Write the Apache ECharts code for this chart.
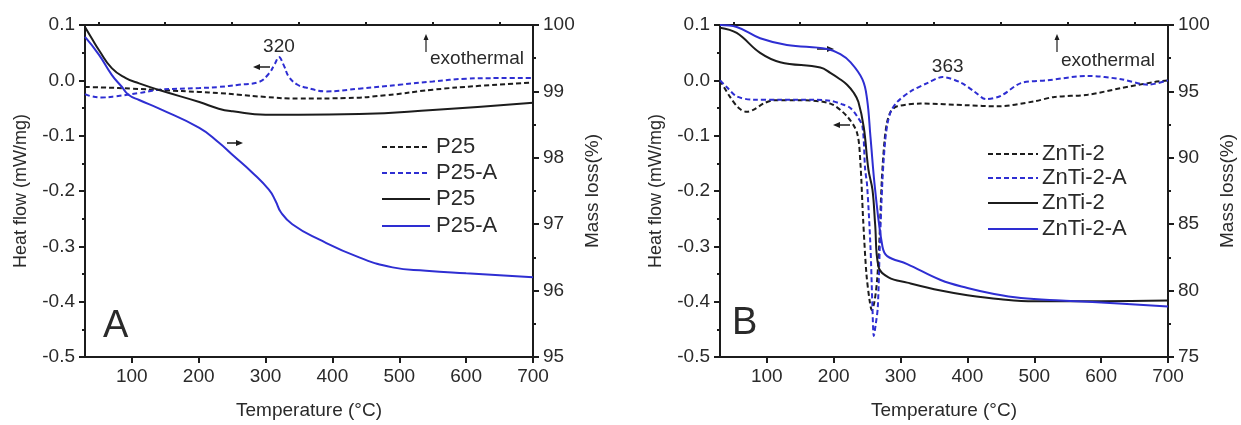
<!DOCTYPE html>
<html><head><meta charset="utf-8">
<script src="https://cdn.jsdelivr.net/npm/echarts@6/dist/echarts.min.js"></script>
<style>html,body{margin:0;padding:0;background:#fff}#c{width:1241px;height:425px}</style>
</head><body><div id="c"></div>
<script>
// ---------- Panel A (P25) ----------
const tA_p25_dsc = [30, 60, 100, 150, 200, 230, 260, 300, 350, 420, 480, 550, 620, 700];
const vA_p25_dsc = [-0.012, -0.013, -0.015, -0.018, -0.021, -0.023, -0.026, -0.030, -0.033, -0.032, -0.027, -0.017, -0.010, -0.004];

const tA_p25a_dsc = [30, 40, 55, 75, 111, 141, 201, 230, 260, 290, 305, 314, 320, 327, 335, 348, 360, 390, 440, 500, 550, 600, 650, 700];
const vA_p25a_dsc = [-0.025, -0.029, -0.031, -0.029, -0.023, -0.017, -0.014, -0.012, -0.008, -0.003, 0.012, 0.030, 0.042, 0.028, 0.006, -0.008, -0.013, -0.020, -0.015, -0.008, -0.002, 0.003, 0.004, 0.004];

const tA_p25_tg = [30, 40, 51, 70, 91, 111, 141, 201, 230, 251, 300, 350, 440, 550, 700];
const vA_p25_tg = [99.97, 99.8, 99.62, 99.35, 99.2, 99.12, 99.02, 98.84, 98.74, 98.7, 98.65, 98.65, 98.66, 98.72, 98.83];

const tA_p25a_tg = [30, 51, 70, 85, 95, 111, 141, 201, 230, 250, 280, 305, 315, 323, 340, 380, 440, 490, 540, 600, 700];
const vA_p25a_tg = [99.82, 99.55, 99.25, 99.07, 98.95, 98.87, 98.74, 98.45, 98.23, 98.05, 97.78, 97.52, 97.35, 97.18, 97.0, 96.77, 96.5, 96.35, 96.3, 96.26, 96.2];

// ---------- Panel B (ZnTi-2) ----------
const tB_zn_dsc = [30, 45, 58, 70, 82, 95, 110, 150, 195, 220, 235, 240, 244, 249, 254, 257, 261, 265, 268, 272, 276, 280, 286, 295, 330, 400, 445, 500, 530, 580, 630, 680, 700];
const vB_zn_dsc = [0.0, -0.03, -0.05, -0.057, -0.052, -0.042, -0.036, -0.036, -0.042, -0.065, -0.095, -0.15, -0.25, -0.35, -0.40, -0.415, -0.40, -0.36, -0.30, -0.18, -0.11, -0.075, -0.055, -0.047, -0.042, -0.045, -0.047, -0.038, -0.03, -0.026, -0.014, -0.003, 0.0];

const tB_zna_dsc = [30, 40, 55, 80, 120, 170, 195, 212, 225, 235, 243, 247, 250, 255, 258, 260, 263, 266, 269, 273, 277, 281, 286, 295, 315, 340, 363, 390, 410, 428, 450, 480, 520, 580, 630, 670, 700];
const vB_zna_dsc = [0.0, -0.012, -0.029, -0.035, -0.035, -0.035, -0.037, -0.043, -0.05, -0.065, -0.083, -0.16, -0.19, -0.30, -0.41, -0.462, -0.44, -0.41, -0.30, -0.18, -0.11, -0.075, -0.055, -0.039, -0.02, -0.005, 0.006, -0.004, -0.02, -0.034, -0.028, -0.005, 0.0, 0.008, 0.002, -0.008, 0.0];

const tB_zn_tg = [30, 55, 90, 120, 180, 195, 210, 220, 230, 237, 245, 252, 258, 262, 267, 282, 310, 360, 400, 450, 500, 600, 700];
const vB_zn_tg = [99.8, 99.4, 97.9, 97.2, 96.8, 96.4, 95.9, 95.5, 94.9, 94.2, 92.3, 89.1, 87.6, 85.0, 81.8, 81.0, 80.6, 80.0, 79.65, 79.35, 79.2, 79.2, 79.25];

const tB_zna_tg = [30, 55, 90, 130, 190, 210, 225, 243, 250, 255, 262, 273, 280, 310, 360, 400, 440, 480, 540, 600, 700];
const vB_zna_tg = [100, 99.85, 99.0, 98.5, 98.2, 97.8, 97.2, 95.9, 94.4, 91.6, 87.6, 83.3, 82.6, 82.0, 80.8, 80.2, 79.75, 79.45, 79.25, 79.1, 78.8];

// ---------- ticks / labels ----------
const xTicks = [100, 200, 300, 400, 500, 600, 700];
const xMinorTicks = [50, 150, 250, 350, 450, 550, 650];
const legendA = ['P25', 'P25-A', 'P25', 'P25-A'];
const legendB = ['ZnTi-2', 'ZnTi-2-A', 'ZnTi-2', 'ZnTi-2-A'];
const peakA = [320, 0.042];
const peakB = [363, 0.006];

const FONT = '"Liberation Sans", Arial, sans-serif';
const BLACK = '#1c1c1c';
const BLUE = '#2e2ed2';
const TXT = '#2a2a2a';
const DASH = [5, 3];

function zip(t, v) { return t.map((x, i) => [x, v[i]]); }

function xAxisMajor(g) {
  return {
    type: 'value', gridIndex: g, min: 30, max: 700,
    axisLine: { show: true, onZero: false, lineStyle: { color: BLACK, width: 2 } },
    axisTick: { show: true, length: 6, customValues: xTicks, lineStyle: { color: BLACK, width: 2 } },
    axisLabel: { show: true, customValues: xTicks, margin: 10, fontSize: 19, color: TXT, fontFamily: FONT },
    splitLine: { show: false },
    name: 'Temperature (°C)', nameLocation: 'middle', nameGap: 44,
    nameTextStyle: { fontSize: 19, color: TXT, fontFamily: FONT }
  };
}
function xAxisMinor(g) {
  return {
    type: 'value', gridIndex: g, min: 30, max: 700,
    axisLine: { show: false, onZero: false },
    axisTick: { show: true, length: 3, customValues: xMinorTicks, lineStyle: { color: BLACK, width: 2 } },
    axisLabel: { show: false }, splitLine: { show: false }
  };
}
function yLeft(g) {
  return {
    type: 'value', gridIndex: g, position: 'left', min: -0.5, max: 0.1, interval: 0.1,
    axisLine: { show: true, onZero: false, lineStyle: { color: BLACK, width: 2 } },
    axisTick: { show: true, length: 6, lineStyle: { color: BLACK, width: 2 } },
    minorTick: { show: true, splitNumber: 2, length: 3, lineStyle: { color: BLACK, width: 2 } },
    axisLabel: { margin: 10, fontSize: 19, color: TXT, fontFamily: FONT,
      formatter: v => (Math.abs(v) < 1e-9 ? 0 : v).toFixed(1) },
    splitLine: { show: false }, minorSplitLine: { show: false },
    name: 'Heat flow (mW/mg)', nameLocation: 'middle', nameGap: 55, nameRotate: 90,
    nameTextStyle: { fontSize: 18, color: TXT, fontFamily: FONT }
  };
}
function yRight(g, min, max, interval) {
  return {
    type: 'value', gridIndex: g, position: 'right', min: min, max: max, interval: interval,
    axisLine: { show: true, onZero: false, lineStyle: { color: BLACK, width: 2 } },
    axisTick: { show: true, length: 6, lineStyle: { color: BLACK, width: 2 } },
    minorTick: { show: true, splitNumber: 2, length: 3, lineStyle: { color: BLACK, width: 2 } },
    axisLabel: { margin: 10, fontSize: 19, color: TXT, fontFamily: FONT },
    splitLine: { show: false }, minorSplitLine: { show: false },
    name: 'Mass loss(%)', nameLocation: 'middle', nameGap: 50, nameRotate: 90,
    nameTextStyle: { fontSize: 19, color: TXT, fontFamily: FONT }
  };
}
function line(name, data, xi, yi, color, dashed, smooth, extra) {
  return Object.assign({
    type: 'line', name: name, data: data, xAxisIndex: xi, yAxisIndex: yi,
    showSymbol: false, symbol: 'none', smooth: smooth,
    lineStyle: { color: color, width: 2, type: dashed ? DASH : 'solid' },
    itemStyle: { color: color }, z: 3, silent: true
  }, extra || {});
}
function peakMark(p, off) {
  return {
    markPoint: {
      symbol: 'circle', symbolSize: 0, silent: true,
      data: [{ coord: p, value: String(p[0]) }],
      label: { show: true, position: 'top', distance: 1, offset: off, formatter: '{c}',
        fontSize: 19, color: TXT, fontFamily: FONT }
    }
  };
}

// graphic helpers (annotations & legend)
function hArrow(x1, x2, y, color) {
  const dir = x2 > x1 ? 1 : -1;
  return [
    { type: 'line', shape: { x1: x1, y1: y, x2: x2 - dir * 5, y2: y }, style: { stroke: color, lineWidth: 1.5 } },
    { type: 'polygon', shape: { points: [[x2, y], [x2 - dir * 7, y - 3], [x2 - dir * 7, y + 3]] }, style: { fill: color } }
  ];
}
function upArrow(x, y1, y2) {
  return [
    { type: 'line', shape: { x1: x, y1: y2, x2: x, y2: y1 + 4 }, style: { stroke: BLACK, lineWidth: 1.2 } },
    { type: 'polygon', shape: { points: [[x, y1], [x - 2.5, y1 + 6], [x + 2.5, y1 + 6]] }, style: { fill: BLACK } }
  ];
}
function legend(labels, x1, x2, xt, ys) {
  const styles = [[BLACK, true], [BLUE, true], [BLACK, false], [BLUE, false]];
  const out = [];
  labels.forEach((lab, i) => {
    out.push({ type: 'line', shape: { x1: x1, y1: ys[i], x2: x2, y2: ys[i] },
      style: { stroke: styles[i][0], lineWidth: 2, lineDash: styles[i][1] ? DASH : null } });
    out.push({ type: 'text', x: xt, y: ys[i], style: { text: lab, fill: TXT, font: '22px ' + FONT, textVerticalAlign: 'middle', verticalAlign: 'middle' } });
  });
  return out;
}
function txt(s, x, y, size, align) {
  return { type: 'text', x: x, y: y, style: { text: s, fill: TXT, font: size + 'px ' + FONT,
    textAlign: align || 'left', align: align || 'left', textVerticalAlign: 'middle', verticalAlign: 'middle' } };
}

const graphics = [].concat(
  legend(legendA, 382, 430, 436, [147, 173, 199, 226]),
  legend(legendB, 988, 1038, 1042, [154, 178, 203, 229]),
  upArrow(426, 34, 52), [txt('exothermal', 430, 59, 19)],
  upArrow(1057, 34, 52), [txt('exothermal', 1061, 61, 19)],
  hArrow(270, 253, 67, BLACK), hArrow(227, 243, 143, BLACK),
  hArrow(817, 834, 49, BLACK), hArrow(850, 833, 125, BLACK),
  [txt('A', 103, 327, 38), txt('B', 732, 324, 38)]
);

const option = {
  backgroundColor: '#ffffff',
  animation: false,
  grid: [
    { left: 85, top: 25, width: 448, height: 333, show: true, borderColor: BLACK, borderWidth: 2, backgroundColor: 'transparent' },
    { left: 720, top: 25, width: 448, height: 333, show: true, borderColor: BLACK, borderWidth: 2, backgroundColor: 'transparent' }
  ],
  xAxis: [xAxisMajor(0), xAxisMinor(0), xAxisMajor(1), xAxisMinor(1)],
  yAxis: [yLeft(0), yRight(0, 95, 100, 1), yLeft(1), yRight(1, 75, 100, 5)],
  series: [
    line('P25 DSC', zip(tA_p25_dsc, vA_p25_dsc), 0, 0, BLACK, true, 0.5),
    line('P25-A DSC', zip(tA_p25a_dsc, vA_p25a_dsc), 0, 0, BLUE, true, 0.4, peakMark(peakA, [0, 0])),
    line('P25 TG', zip(tA_p25_tg, vA_p25_tg), 0, 1, BLACK, false, 0.5),
    line('P25-A TG', zip(tA_p25a_tg, vA_p25a_tg), 0, 1, BLUE, false, 0.5),
    line('ZnTi-2 DSC', zip(tB_zn_dsc, vB_zn_dsc), 2, 2, BLACK, true, 0.3),
    line('ZnTi-2-A DSC', zip(tB_zna_dsc, vB_zna_dsc), 2, 2, BLUE, true, 0.3, peakMark(peakB, [5, 0])),
    line('ZnTi-2 TG', zip(tB_zn_tg, vB_zn_tg), 2, 3, BLACK, false, 0.4),
    line('ZnTi-2-A TG', zip(tB_zna_tg, vB_zna_tg), 2, 3, BLUE, false, 0.4)
  ],
  graphic: graphics
};

const chart = echarts.init(document.getElementById('c'), null, { renderer: 'canvas' });
chart.setOption(option);
</script>
</body></html>
